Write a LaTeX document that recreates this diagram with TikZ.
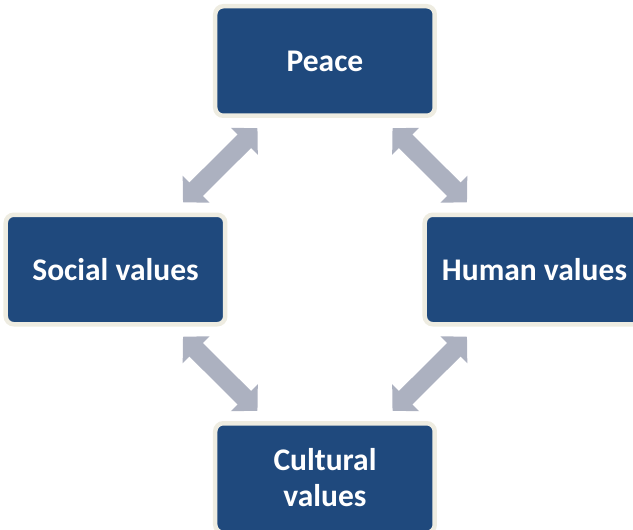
\documentclass[tikz,border=0pt]{standalone}
\usepackage{fontspec}
\setmainfont{Carlito}
\usetikzlibrary{arrows.meta,positioning}
\definecolor{boxblue}{HTML}{1F497D}
\definecolor{boxrim}{HTML}{EEECE1}
\definecolor{arrowgray}{HTML}{ACB1C0}

\begin{document}
\begin{tikzpicture}[node distance=2cm,on grid,
	valuebox/.style={draw=boxrim,line width=4.5pt,fill=boxblue,rounded corners=8pt,
		minimum width=219.5pt,minimum height=109.5pt,align=center,text=white,
		font=\fontsize{31.5}{36}\selectfont\bfseries},
	dblarrow/.style={color=arrowgray,line width=19pt,shorten >=14.5pt,shorten <=14.5pt,
		{Triangle[width=37pt,length=18.5pt]}-{Triangle[width=37pt,length=18.5pt]}}]
	\useasboundingbox (-325pt,61pt) rectangle (308pt,-469pt);
    	\node[valuebox] (peace)   {Peace};
    	\node[valuebox] (social) [below left=208.5pt and 209.5pt of peace] {Social values};
  		\node[valuebox] (human) [below right=208.5pt and 209.5pt of peace] {Human values};
    	\node[valuebox] (cultural) [below=417pt of peace] {Cultural\\values};
        \path[dblarrow]
        (peace) edge (social)
              edge (human)
        (cultural) edge (social)
              edge (human)
              ;
	\end{tikzpicture}
\end{document}
